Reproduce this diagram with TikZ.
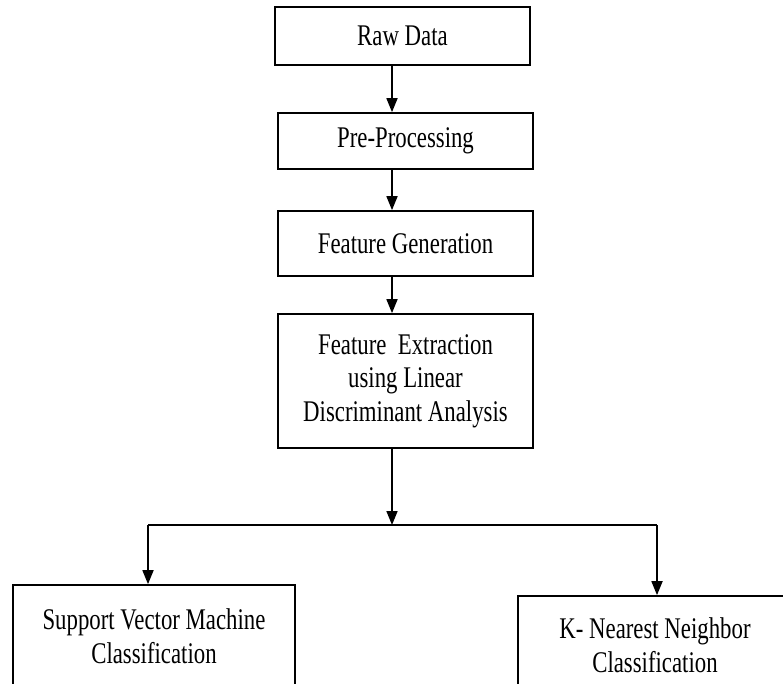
\documentclass[tikz,border=0pt]{standalone}
\usepackage{fontspec}
\setmainfont{Liberation Serif}[FakeStretch=0.76]
\usetikzlibrary{arrows.meta}
\tikzset{
  box/.style={draw, line width=1.7pt, rectangle, align=center, inner sep=0pt,
    font=\fontsize{30}{33.5}\selectfont},
  arr/.style={line width=1.7pt, -{Triangle[width=11pt,length=14pt]}},
  conn/.style={line width=1.7pt}
}
\begin{document}
\begin{tikzpicture}[x=1pt,y=-1pt]
\useasboundingbox (0,0) rectangle (783,683);
\clip (0,0) rectangle (783,683);
\node[box, minimum width=255pt, minimum height=58pt] (raw) at (402.5,36) {Raw Data};
\node[box, minimum width=255pt, minimum height=56pt] (pre) at (405.5,141) {Pre-Processing};
\node[box, minimum width=255pt, minimum height=65pt] (fg) at (405.5,243.5) {Feature Generation};
\node[box, minimum width=255pt, minimum height=134pt] (fe) at (405.5,381) {Feature\ \ Extraction\\using Linear\\Discriminant Analysis};
\node[box, minimum width=282pt, minimum height=102pt] (svm) at (154,636) {Support Vector Machine\\Classification};
\node[box, minimum width=274pt, minimum height=98pt] (knn) at (655,645) {K- Nearest Neighbor\\Classification};
\coordinate (ax) at (392,0);
\coordinate (mid) at (392,525);
\coordinate (bl) at (148,525);
\coordinate (brr) at (657,525);
\draw[arr] (raw.south -| ax) -- (pre.north -| ax);
\draw[arr] (pre.south -| ax) -- (fg.north -| ax);
\draw[arr] (fg.south -| ax) -- (fe.north -| ax);
\draw[arr] (fe.south -| ax) -- (mid);
\draw[conn] (bl) -- (brr);
\draw[arr] (bl) -- (bl |- svm.north);
\draw[arr] (brr) -- (brr |- knn.north);
\end{tikzpicture}
\end{document}
